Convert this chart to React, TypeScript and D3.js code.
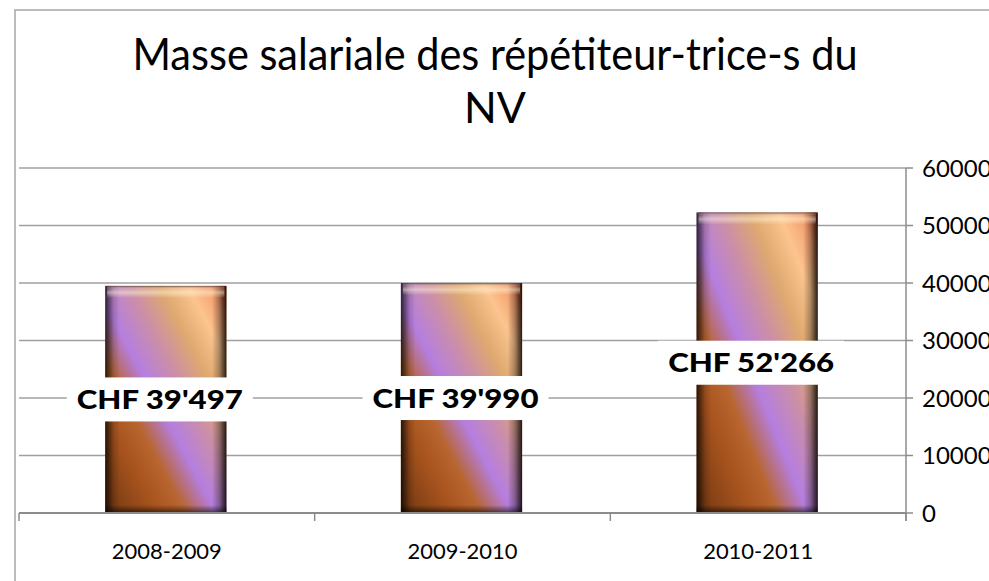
import * as d3 from "d3";

const categories = ["2008-2009", "2009-2010", "2010-2011"];
const values = [39497, 39990, 52266];
const valueLabels = ["CHF 39'497", "CHF 39'990", "CHF 52'266"];
const yTicks = [0, 10000, 20000, 30000, 40000, 50000, 60000];
const titleLines = ["Masse salariale des répétiteur-trice-s du", "NV"];

const W = 989;
const H = 581;
const font = "Lato, 'Open Sans', sans-serif";

export default function App() {
  const x = d3.scaleBand().domain(categories).range([19, 906]).padding(0);
  const y = d3.scaleLinear().domain([0, 60000]).range([513, 168]);
  const barW = x.bandwidth() * 0.41;

  return (
    <div style={{ position: "absolute", left: 0, top: 0 }}>
      <svg width={W} height={H} style={{ display: "block", background: "#fff" }}>
        <defs>
          <linearGradient id="barFill" x1="0" y1="1" x2="1" y2="0">
            <stop offset="0" stopColor="#6e3610" />
            <stop offset="0.22" stopColor="#a9541e" />
            <stop offset="0.33" stopColor="#b8652f" />
            <stop offset="0.46" stopColor="#b57ee0" />
            <stop offset="0.6" stopColor="#cc8fa6" />
            <stop offset="0.72" stopColor="#dea870" />
            <stop offset="0.84" stopColor="#fcc48e" />
            <stop offset="0.93" stopColor="#f5a070" />
            <stop offset="1" stopColor="#e2582a" />
          </linearGradient>
          {/* bevel: dark side edges */}
          <linearGradient id="edgeShade" x1="0" y1="0" x2="1" y2="0">
            <stop offset="0" stopColor="#000" stopOpacity="0.75" />
            <stop offset="0.07" stopColor="#000" stopOpacity="0.15" />
            <stop offset="0.12" stopColor="#000" stopOpacity="0" />
            <stop offset="0.88" stopColor="#000" stopOpacity="0" />
            <stop offset="0.94" stopColor="#000" stopOpacity="0.3" />
            <stop offset="1" stopColor="#000" stopOpacity="0.85" />
          </linearGradient>
          <linearGradient id="topShine" x1="0" y1="0" x2="0" y2="1">
            <stop offset="0" stopColor="#3a2010" stopOpacity="0.7" />
            <stop offset="0.25" stopColor="#fff" stopOpacity="0.15" />
            <stop offset="0.55" stopColor="#fff6d0" stopOpacity="0.5" />
            <stop offset="1" stopColor="#fff" stopOpacity="0" />
          </linearGradient>
          <linearGradient id="bottomShade" x1="0" y1="0" x2="0" y2="1">
            <stop offset="0" stopColor="#000" stopOpacity="0" />
            <stop offset="1" stopColor="#000" stopOpacity="0.6" />
          </linearGradient>
        </defs>

        {/* chart border */}
        <rect x={15} y={10} width={W} height={H} fill="none" stroke="#a6a6a6" strokeWidth={1.5} />

        {/* title */}
        <text x={495} y={70} textAnchor="middle" fontFamily={font} fontSize={44}
          textLength={725} lengthAdjust="spacingAndGlyphs" fill="#000">
          {titleLines[0]}
        </text>
        <text x={495} y={123} textAnchor="middle" fontFamily={font} fontSize={43} fill="#000">
          {titleLines[1]}
        </text>

        {/* gridlines */}
        {yTicks.slice(1).map((t) => (
          <line key={t} x1={19} x2={906} y1={y(t)} y2={y(t)} stroke="#a0a0a0" strokeWidth={1.5} />
        ))}

        {/* right axis */}
        <line x1={906} x2={906} y1={y(60000)} y2={y(0) + 8} stroke="#8c8c8c" strokeWidth={1.5} />
        {yTicks.map((t) => (
          <g key={t}>
            <line x1={906} x2={913} y1={y(t)} y2={y(t)} stroke="#8c8c8c" strokeWidth={1.5} />
            <text x={922} y={y(t)} dy="0.36em" fontFamily={font} fontSize={24} fill="#000">
              {t}
            </text>
          </g>
        ))}

        {/* bars */}
        {values.map((v, i) => {
          const bx = (x(categories[i]) as number) + x.bandwidth() / 2 - barW / 2 - 1;
          const by = y(v);
          const bh = y(0) - y(v);
          return (
            <g key={categories[i]}>
              <rect x={bx} y={by} width={barW} height={bh} fill="url(#barFill)" />
              <rect x={bx} y={by} width={barW} height={bh} fill="url(#edgeShade)" />
              <rect x={bx + 2} y={by} width={barW - 4} height={12} fill="url(#topShine)" />
              <rect x={bx} y={y(0) - 8} width={barW} height={8} fill="url(#bottomShade)" />
            </g>
          );
        })}

        {/* x axis */}
        <line x1={19} x2={906} y1={y(0)} y2={y(0)} stroke="#8c8c8c" strokeWidth={2} />
        {[...categories.map((c) => x(c) as number), 906].map((px, i) => (
          <line key={i} x1={px} x2={px} y1={y(0)} y2={y(0) + 8} stroke="#8c8c8c" strokeWidth={1.5} />
        ))}
        {categories.map((c) => (
          <text key={c} x={(x(c) as number) + x.bandwidth() / 2} y={559} textAnchor="middle"
            fontFamily={font} fontSize={22} textLength={110} lengthAdjust="spacingAndGlyphs" fill="#000">
            {c}
          </text>
        ))}

        {/* value labels, centred in the bar on a white box */}
        {values.map((v, i) => {
          const cx = (x(categories[i]) as number) + x.bandwidth() / 2 - 7;
          const cy = y(v / 2);
          return (
            <g key={"l" + i}>
              <rect x={cx - 93} y={cy - 22} width={186} height={44} fill="#fff" />
              <text x={cx} y={cy + 9.5} textAnchor="middle" fontFamily={font} fontWeight={900}
                fontSize={27} textLength={166} lengthAdjust="spacingAndGlyphs" fill="#000">
                {valueLabels[i]}
              </text>
            </g>
          );
        })}
      </svg>
    </div>
  );
}
